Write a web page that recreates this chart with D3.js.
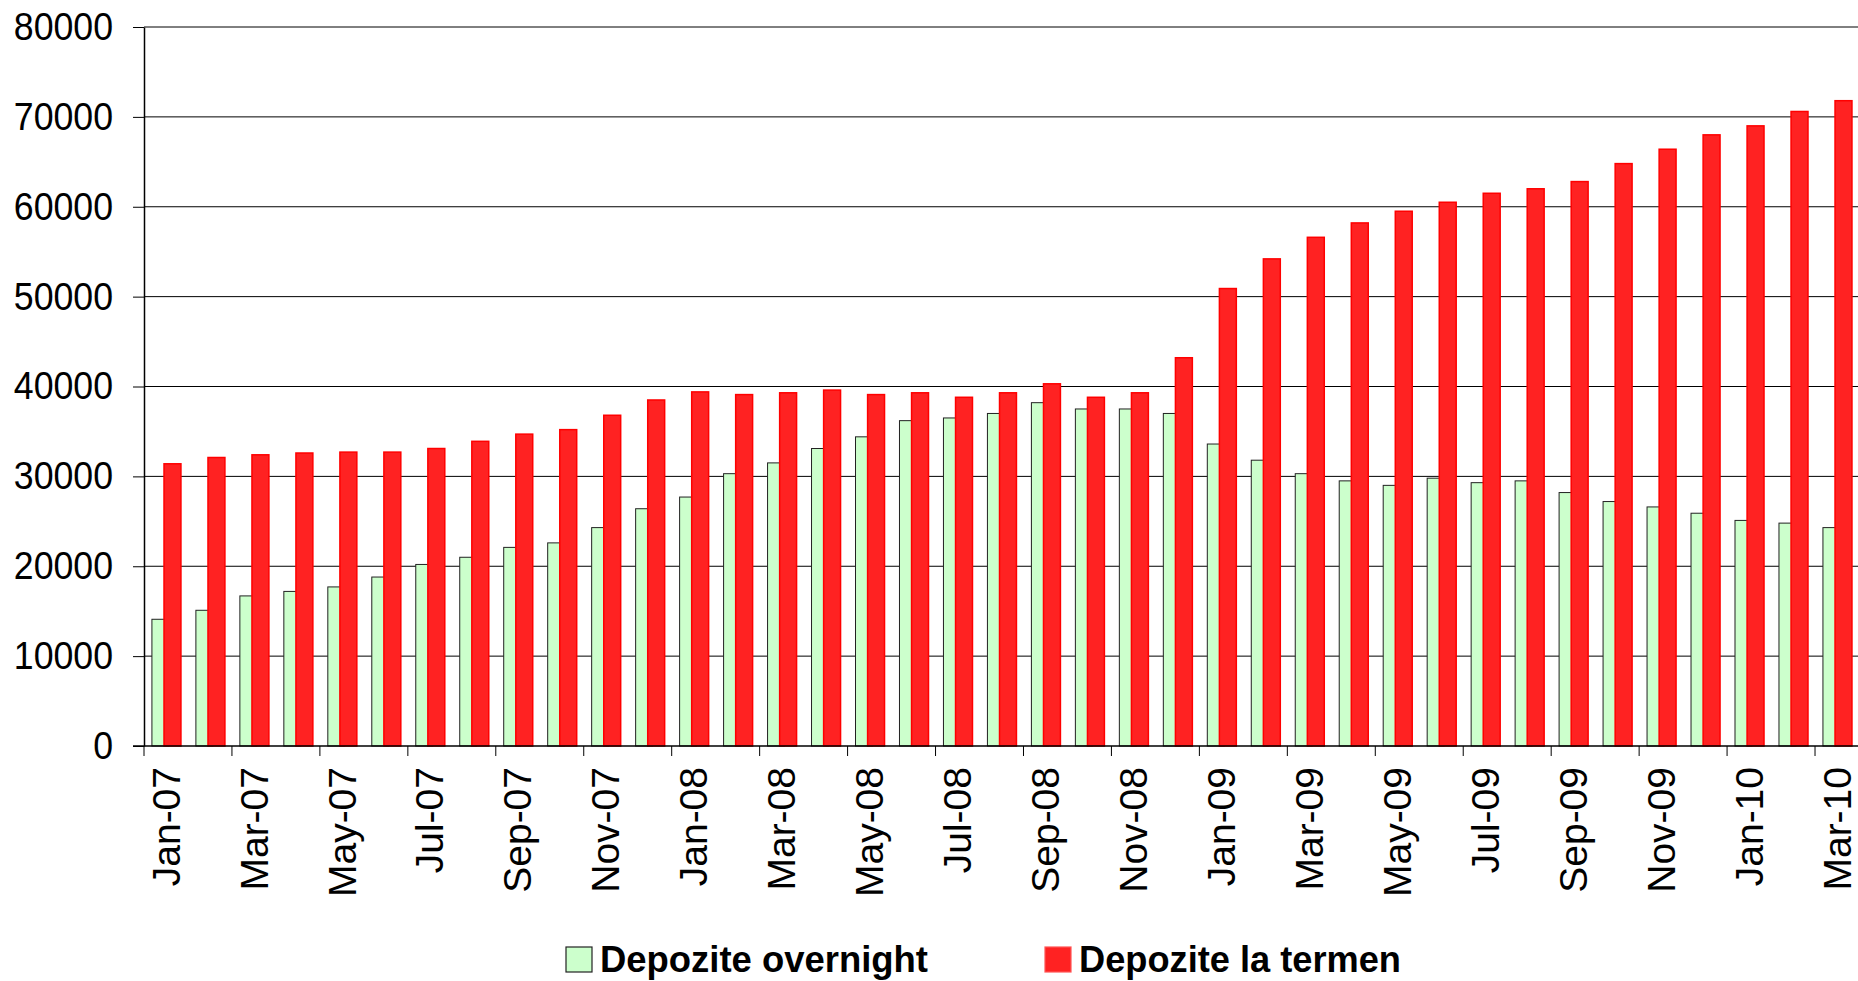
<!DOCTYPE html>
<html>
<head>
<meta charset="utf-8">
<script src="https://cdn.jsdelivr.net/npm/d3@7"></script>
<style>
  body { margin: 0; background: #fff; }
  svg { display: block; font-family: "Liberation Sans", Arial, sans-serif; }
</style>
</head>
<body>
<div id="chart"></div>
<script>
let months = ["Jan-07","Feb-07","Mar-07","Apr-07","May-07","Jun-07","Jul-07","Aug-07","Sep-07","Oct-07","Nov-07","Dec-07",
  "Jan-08","Feb-08","Mar-08","Apr-08","May-08","Jun-08","Jul-08","Aug-08","Sep-08","Oct-08","Nov-08","Dec-08",
  "Jan-09","Feb-09","Mar-09","Apr-09","May-09","Jun-09","Jul-09","Aug-09","Sep-09","Oct-09","Nov-09","Dec-09",
  "Jan-10","Feb-10","Mar-10"];

let overnight = [14100,15100,16700,17200,17700,18800,20200,21000,22100,22600,24300,26400,
  27700,30300,31500,33100,34400,36200,36500,37000,38200,37500,37500,37000,
  33600,31800,30300,29500,29000,29800,29300,29500,28200,27200,26600,25900,
  25100,24800,24300];

let laTermen = [31400,32100,32400,32600,32700,32700,33100,33900,34700,35200,36800,38500,
  39400,39100,39300,39600,39100,39300,38800,39300,40300,38800,39300,43200,
  50900,54200,56600,58200,59500,60500,61500,62000,62800,64800,66400,68000,
  69000,70600,71800];

let yTicks = [0,10000,20000,30000,40000,50000,60000,70000,80000];
let seriesNames = ["Depozite overnight", "Depozite la termen"];

let width = 1858, height = 981;
let plotLeft = 144, plotTop = 27, plotBottom = 746, plotRight = 1859;

let svg = d3.select("#chart").append("svg")
  .attr("width", width)
  .attr("height", height);

let x = d3.scaleBand().domain(months).range([plotLeft, plotRight]).padding(0);
let y = d3.scaleLinear().domain([0, 80000]).range([plotBottom, plotTop]);
let bw = x.bandwidth();

// gridlines
svg.append("g")
  .selectAll("line")
  .data(yTicks.slice(1))
  .enter().append("line")
  .attr("x1", plotLeft).attr("x2", width)
  .attr("y1", d => y(d)).attr("y2", d => y(d))
  .attr("stroke", "#000").attr("stroke-width", 1);

// bars - green first, red overlaps a bit on top
let barW = bw * 0.385;
svg.append("g")
  .selectAll("rect")
  .data(overnight)
  .enter().append("rect")
  .attr("x", (d, i) => x(months[i]) + bw * 0.18)
  .attr("y", d => y(d))
  .attr("width", barW)
  .attr("height", d => plotBottom - y(d))
  .attr("fill", "#ccffcc")
  .attr("stroke", "#222")
  .attr("stroke-width", 1);

svg.append("g")
  .selectAll("rect")
  .data(laTermen)
  .enter().append("rect")
  .attr("x", (d, i) => x(months[i]) + bw * 0.455)
  .attr("y", d => y(d))
  .attr("width", barW)
  .attr("height", d => plotBottom - y(d))
  .attr("fill", "#ff2222")
  .attr("stroke", "#ff0000")
  .attr("stroke-width", 1.5);

// y axis
let yAxis = svg.append("g")
  .attr("transform", "translate(" + plotLeft + ",0)")
  .call(d3.axisLeft(y).tickValues(yTicks).tickSize(11).tickSizeOuter(0).tickFormat(d3.format("d")));
yAxis.select(".domain").attr("stroke", "#000").attr("stroke-width", 1.5);
yAxis.selectAll("line").attr("stroke", "#000");
yAxis.selectAll("text")
  .attr("font-size", 39)
  .attr("fill", "#000")
  .attr("x", -31 / 0.915)
  .attr("transform", "scale(0.915,1)");

// x axis: labels on every other month, ticks on category edges
let shown = months.filter((m, i) => i % 2 == 0);
let xAxis = svg.append("g")
  .attr("transform", "translate(0," + plotBottom + ")")
  .call(d3.axisBottom(x).tickValues(shown).tickSize(10).tickSizeOuter(0));
xAxis.select(".domain").attr("d", "M" + (plotLeft - 11) + ",0H" + width).attr("stroke", "#000").attr("stroke-width", 1.5);
xAxis.selectAll(".tick line").attr("stroke", "#000").attr("x1", -bw / 2).attr("x2", -bw / 2);
xAxis.selectAll(".tick text")
  .attr("font-size", 39)
  .attr("fill", "#000")
  .attr("text-anchor", "end")
  .attr("transform", "rotate(-90)")
  .attr("x", -21)
  .attr("y", 0)
  .attr("dy", "0.35em");

// legend
let legendX = [566, 1045];
let legendW = [328, 322];
let legendFill = ["#ccffcc", "#ff2222"];
let legendStroke = ["#222", "#ff5555"];
let lg = svg.append("g").selectAll("g")
  .data(seriesNames)
  .enter().append("g");
lg.append("rect")
  .attr("x", (d, i) => legendX[i])
  .attr("y", 947)
  .attr("width", 26)
  .attr("height", 25)
  .attr("fill", (d, i) => legendFill[i])
  .attr("stroke", (d, i) => legendStroke[i])
  .attr("stroke-width", 1.2);
lg.append("text")
  .attr("x", (d, i) => legendX[i] + 34)
  .attr("y", 972)
  .attr("font-size", 36)
  .attr("font-weight", "bold")
  .attr("textLength", (d, i) => legendW[i])
  .attr("lengthAdjust", "spacingAndGlyphs")
  .text(d => d);
</script>
</body>
</html>
